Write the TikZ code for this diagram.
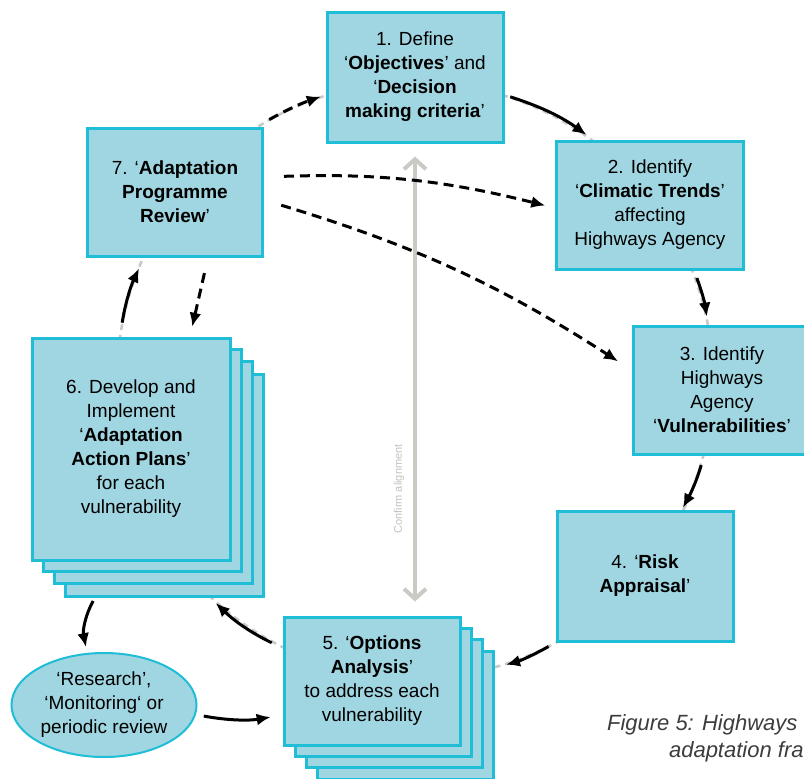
\documentclass[tikz,border=0pt]{standalone}
\usepackage{fontspec}
\setmainfont{Liberation Sans}
\usetikzlibrary{arrows.meta,shapes.geometric}
\definecolor{boxfill}{RGB}{160,214,225}
\definecolor{boxline}{RGB}{31,189,214}
\definecolor{ringgrey}{RGB}{200,203,196}
\definecolor{captiongrey}{RGB}{60,60,60}
\begin{document}
\begin{tikzpicture}[x=0.5pt,y=0.5pt,
  stage/.style={rectangle, fill=boxfill, draw=boxline, line width=1.5pt, inner sep=0pt, align=center, font=\fontsize{9.5}{12}\selectfont},
  bigstage/.style={stage, minimum width=99pt, minimum height=111pt},
  midstage/.style={stage, minimum width=88pt, minimum height=64pt},
  flow/.style={-{Latex[length=7pt,width=6pt]}, line width=1.5pt, black},
  maybe/.style={flow, dash pattern=on 5pt off 3pt},
  ring/.style={ringgrey, line width=1.3pt, dash pattern=on 3pt off 2.5pt},
  alignline/.style={{Straight Barb[length=5pt,width=11pt]}-{Straight Barb[length=5pt,width=11pt]}, ringgrey, line width=2pt}]
\useasboundingbox (0,0) rectangle (804,-778);
\clip (0,0) rectangle (804,-778);
\draw [ring] (415,-380) circle [radius=298];
\node [stage, minimum width=88pt, minimum height=65pt] (b1) at (415,-77) {1. Define\\‘\textbf{Objectives}’ and\\‘\textbf{Decision}\\\textbf{making criteria}’};
\node [stage, minimum width=93.5pt, minimum height=64pt] (b2) at (650,-205) {2. Identify\\‘\textbf{Climatic Trends}’\\affecting\\Highways Agency};
\node [stage, minimum width=89pt, minimum height=64pt] (b3) at (722,-390) {3. Identify\\Highways\\Agency\\‘\textbf{Vulnerabilities}’};
\node [stage, minimum width=88pt, minimum height=65pt] (b4) at (645,-576) {4. ‘\textbf{Risk}\\\textbf{Appraisal}’};
\node [midstage] (b5d) at (405,-715) {};
\node [midstage] (b5c) at (394,-703) {};
\node [midstage] (b5b) at (383,-692) {};
\node [midstage] (b5) at (372,-681) {5. ‘\textbf{Options}\\\textbf{Analysis}’\\to address each\\vulnerability};
\node [bigstage] (b6d) at (164,-485) {};
\node [bigstage] (b6c) at (153,-472) {};
\node [bigstage] (b6b) at (142,-460) {};
\node [bigstage] (b6) at (131,-449) {6. Develop and\\Implement\\‘\textbf{Adaptation}\\\textbf{Action Plans}’\\for each\\vulnerability};
\node [stage, minimum width=87.5pt, minimum height=64pt] (b7) at (175,-192) {7. ‘\textbf{Adaptation}\\\textbf{Programme}\\\textbf{Review}’};
\node [ellipse, fill=boxfill, draw=boxline, line width=1pt, inner sep=0pt, minimum width=92.5pt, minimum height=52pt, align=center, font=\fontsize{9.5}{12}\selectfont] (el) at (104,-705) {‘Research’,\\‘Monitoring‘ or\\periodic review};
\draw [alignline] ([yshift=-6.5pt]b1.south) -- ([yshift=7pt]b1.south |- b5.north);
\node [rotate=90, text=ringgrey!90!gray, font=\fontsize{5.5}{6}\selectfont] (confirm) at (399,-489) {Confirm alignment};
\draw [flow, shorten <=3pt, shorten >=4pt] ([yshift=-9pt]b1.east) to [bend left=9] ([xshift=-28.5pt]b2.north);
\draw [flow, shorten <=4pt, shorten >=4pt] ([xshift=22pt]b2.south) to [bend left=6] ([xshift=-7pt]b3.north);
\draw [flow, shorten <=5pt, shorten >=1pt] ([xshift=-9pt]b3.south) to [bend left=6] ([xshift=18.5pt]b4.north);
\draw [flow, shorten <=4pt, shorten >=6pt] (b4.south west) to [bend left=7] ([yshift=23.5pt]b5d.east);
\draw [flow, shorten <=6pt, shorten >=4pt] ([yshift=16.5pt]b5.west) to [bend left=9] ([xshift=23pt]b6d.south);
\draw [flow, shorten <=7pt, shorten >=6pt] ([xshift=-5.5pt]b6.north) to [bend left=8] ([xshift=-15.5pt]b7.south);
\draw [maybe, shorten <=8pt, shorten >=5pt] ([xshift=16.5pt]b7.south) -- ([xshift=29.5pt]b6.north);
\draw [maybe, shorten <=3pt, shorten >=2.5pt] ([yshift=2pt]b7.north east) to [bend left=5] ([yshift=-9pt]b1.west);
\draw [maybe, shorten <=10pt, shorten >=5pt] ([yshift=7.5pt]b7.east) to [bend left=8] ([yshift=-1.5pt]b2.west);
\draw [maybe, shorten <=9pt, shorten >=8pt] ([yshift=-4pt]b7.east) to [bend left=8] ([yshift=10pt]b3.west);
\draw [flow, shorten <=2pt, shorten >=2.5pt] ([xshift=-34.5pt]b6d.south) to [bend right=20] ([xshift=-8.5pt]el.north);
\draw [flow, shorten <=4pt, shorten >=6pt] (el.-6) to [bend right=10] ([yshift=-17pt]b5.west);
\node [anchor=base west, text=captiongrey, font=\fontsize{11}{13}\selectfont\itshape] (cap1) at (600,-730) {Figure 5: Highways};
\node [anchor=base west, text=captiongrey, font=\fontsize{11}{13}\selectfont\itshape] (cap2) at (662,-757) {adaptation fra};
\end{tikzpicture}
\end{document}
